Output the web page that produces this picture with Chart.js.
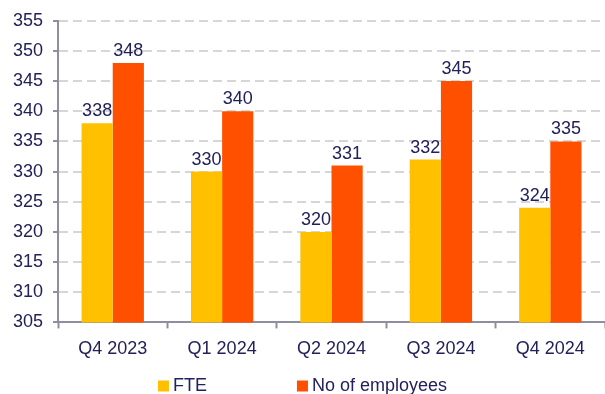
<!DOCTYPE html>
<html>
<head>
<meta charset="utf-8">
<script src="https://cdn.jsdelivr.net/npm/chart.js@4"></script>
<style>
  html, body { margin: 0; padding: 0; background: #fff; }
  #wrap { width: 605px; height: 394px; }
</style>
</head>
<body>
<div id="wrap"><canvas id="staffChart"></canvas></div>
<script>
const quarters = ['Q4 2023', 'Q1 2024', 'Q2 2024', 'Q3 2024', 'Q4 2024'];
const fte = [338, 330, 320, 332, 324];
const employees = [348, 340, 331, 345, 335];
const yTicks = [305, 310, 315, 320, 325, 330, 335, 340, 345, 350, 355];

const navy = '#23215a';
const axisGrey = '#8e8e9e';
const fontFamily = '"Liberation Sans", Arial, sans-serif';

// numbers above each bar
const barLabels = {
    id: 'barLabels',
    afterDatasetsDraw(chart) {
        const ctx = chart.ctx;
        ctx.save();
        ctx.font = '18px ' + fontFamily;
        ctx.fillStyle = navy;
        ctx.textAlign = 'center';
        ctx.textBaseline = 'bottom';
        chart.data.datasets.forEach((ds, i) => {
            chart.getDatasetMeta(i).data.forEach((bar, j) => {
                ctx.fillText(ds.data[j], bar.x, bar.y - 3);
            });
        });
        ctx.restore();
    }
};

// legend drawn along the bottom, wide gap between the two entries
const bottomLegend = {
    id: 'bottomLegend',
    afterDraw(chart) {
        const ctx = chart.ctx;
        const box = 11, textGap = 4, itemGap = 90;
        const y = 386;
        ctx.save();
        ctx.font = '18px ' + fontFamily;
        const items = chart.data.datasets.map(ds => ({
            text: ds.label,
            color: ds.backgroundColor,
            w: box + textGap + ctx.measureText(ds.label).width
        }));
        const total = items.reduce((s, it) => s + it.w, 0) + itemGap * (items.length - 1);
        let x = (chart.width - total) / 2;
        ctx.textBaseline = 'middle';
        ctx.textAlign = 'left';
        items.forEach(it => {
            ctx.fillStyle = it.color;
            ctx.fillRect(x, y - box / 2, box, box);
            ctx.fillStyle = navy;
            ctx.fillText(it.text, x + box + textGap, y);
            x += it.w + itemGap;
        });
        ctx.restore();
    }
};

new Chart(document.getElementById('staffChart'), {
    type: 'bar',
    data: {
        labels: quarters,
        datasets: [
            { label: 'FTE', data: fte, backgroundColor: '#ffc000' },
            { label: 'No of employees', data: employees, backgroundColor: '#ff5000' }
        ]
    },
    options: {
        responsive: true,
        maintainAspectRatio: false,
        animation: false,
        layout: { padding: { top: 10, right: 0, left: 3, bottom: 24 } },
        datasets: { bar: { categoryPercentage: 0.57, barPercentage: 1.0 } },
        plugins: {
            legend: { display: false },
            tooltip: { enabled: false }
        },
        scales: {
            x: {
                grid: {
                    offset: true,
                    drawOnChartArea: false,
                    tickLength: 6,
                    tickColor: axisGrey,
                    tickWidth: 2
                },
                border: { color: axisGrey, width: 2 },
                ticks: {
                    color: navy,
                    padding: 10,
                    font: { family: fontFamily, size: 18 }
                }
            },
            y: {
                min: 305,
                max: 355,
                afterBuildTicks(axis) {
                    axis.ticks = yTicks.map(v => ({ value: v }));
                },
                grid: {
                    color: '#d6d6d6',
                    lineWidth: 2,
                    borderDash: [9, 5],
                    tickLength: 5,
                    tickColor: axisGrey,
                    tickWidth: 2,
                    tickBorderDash: []
                },
                border: { color: axisGrey, width: 2, dash: [9, 5] },
                ticks: {
                    color: navy,
                    padding: 10,
                    font: { family: fontFamily, size: 18 }
                }
            }
        }
    },
    plugins: [barLabels, bottomLegend]
});
</script>
</body>
</html>
